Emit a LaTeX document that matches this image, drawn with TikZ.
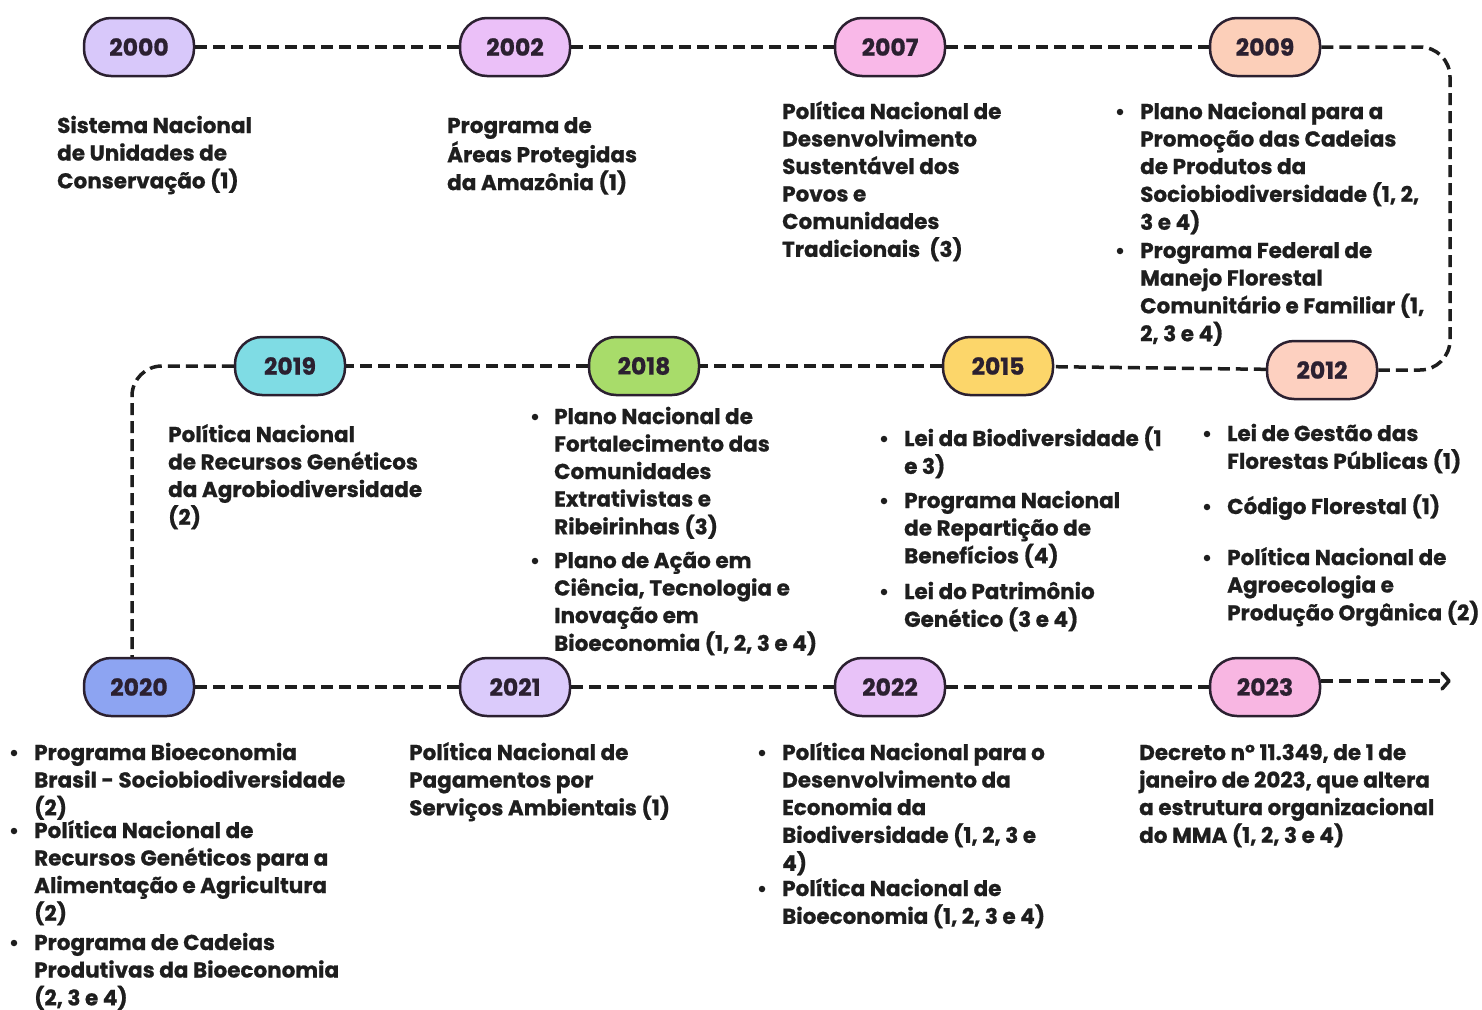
\documentclass[tikz,border=0pt]{standalone}
\usepackage{fontspec}
\setmainfont{Poppins}[BoldFeatures={FakeBold=0.8}]
\usetikzlibrary{calc}
\definecolor{ink}{HTML}{1E1E1E}
\definecolor{edge}{HTML}{2B2030}
\definecolor{c2000}{HTML}{D8C8FA}
\definecolor{c2002}{HTML}{EBC0F8}
\definecolor{c2007}{HTML}{F9B8E8}
\definecolor{c2009}{HTML}{FCCFB9}
\definecolor{c2012}{HTML}{FDD0C0}
\definecolor{c2015}{HTML}{FCD66A}
\definecolor{c2018}{HTML}{A8DC6A}
\definecolor{c2019}{HTML}{7FDCE4}
\definecolor{c2020}{HTML}{8DA4F2}
\definecolor{c2021}{HTML}{DBCBFB}
\definecolor{c2022}{HTML}{E8C2F8}
\definecolor{c2023}{HTML}{F8B6E2}
\newcommand{\linesblk}[1]{\begin{tabular}[t]{@{}l@{}}#1\end{tabular}}
\tikzset{
  year/.style={draw=edge, line width=2.5pt, rectangle, rounded corners=27pt,
    minimum width=110pt, minimum height=58pt, inner sep=0pt,
    text=edge, font=\fontsize{23.5}{26}\selectfont\bfseries},
  txt/.style={inner sep=0pt, text=ink, anchor=base west,
    font=\fontsize{21.5}{27.5}\selectfont\bfseries},
  dot/.style={circle, fill=ink, inner sep=0pt, minimum size=6.5pt},
  link/.style={draw=ink, line width=3.5pt, dash pattern=on 12pt off 6pt, rounded corners=30pt},
  chevron/.style={draw=ink, line width=3.5pt, line cap=round, line join=round},
}
\begin{document}
\begin{tikzpicture}[x=1pt,y=-1pt]
\useasboundingbox[fill=white] (0,0) rectangle (1482,1009);
\node[year, fill=c2000] (y2000) at (139,47) {2000};
\node[year, fill=c2002] (y2002) at (515,47) {2002};
\node[year, fill=c2007] (y2007) at (890,47) {2007};
\node[year, fill=c2009] (y2009) at (1265,47) {2009};
\node[year, fill=c2019] (y2019) at (290,366) {2019};
\node[year, fill=c2018] (y2018) at (644,366) {2018};
\node[year, fill=c2015] (y2015) at (998,366) {2015};
\node[year, fill=c2012] (y2012) at (1322,370) {2012};
\node[year, fill=c2020] (y2020) at (139,687) {2020};
\node[year, fill=c2021] (y2021) at (515,687) {2021};
\node[year, fill=c2022] (y2022) at (890,687) {2022};
\node[year, fill=c2023] (y2023) at (1265,687) {2023};
\coordinate (endarrow) at (1449,681);
\coordinate (tipstart) at (1440,681);
\draw[link] (y2000) -- (y2002);
\draw[link] (y2002) -- (y2007);
\draw[link] (y2007) -- (y2009);
\draw[link] (y2009.east) -- (1450,47) -- (1450,370) -- (y2012.east);
\draw[link] (y2012) -- (y2015);
\draw[link] (y2015) -- (y2018);
\draw[link] (y2018) -- (y2019);
\draw[link] (y2019.west) -- (132,366) -- (132,366 |- y2020.north);
\draw[link] (y2020) -- (y2021);
\draw[link] (y2021) -- (y2022);
\draw[link] (y2022) -- (y2023);
\draw[link] (y2023.east |- endarrow) -- (tipstart);
\draw[chevron] ($(endarrow)+(-7,-8)$) -- (endarrow) -- ($(endarrow)+(-7,8)$);
% texts
\node[txt] (t2000) at (57,133) {\linesblk{Sistema Nacional\\de Unidades de\\Conservação (1)}};
\node[txt] (t2002) at (447,133) {\linesblk{Programa de\\Áreas Protegidas\\da Amazônia (1)}};
\node[txt] (t2007) at (782,119) {\linesblk{Política Nacional de\\Desenvolvimento\\Sustentável dos\\Povos e\\Comunidades\\Tradicionais\ \ (3)}};
\node[dot] (b2009a) at (1120,112) {};
\node[txt] (t2009a) at (1140,119) {\linesblk{Plano Nacional para a\\Promoção das Cadeias\\de Produtos da\\Sociobiodiversidade (1, 2,\\3 e 4)}};
\node[dot] (b2009b) at (1120,251) {};
\node[txt] (t2009b) at (1140,258) {\linesblk{Programa Federal de\\Manejo Florestal\\Comunitário e Familiar (1,\\2, 3 e 4)}};
\node[txt] (t2019) at (168,442) {\linesblk{Política Nacional\\de Recursos Genéticos\\da Agrobiodiversidade\\(2)}};
\node[dot] (b2018a) at (535,417) {};
\node[txt] (t2018a) at (554,424) {\linesblk{Plano Nacional de\\Fortalecimento das\\Comunidades\\Extrativistas e\\Ribeirinhas (3)}};
\node[dot] (b2018b) at (535,561) {};
\node[txt] (t2018b) at (554,568) {\linesblk{Plano de Ação em\\Ciência, Tecnologia e\\Inovação em\\Bioeconomia (1, 2, 3 e 4)}};
\node[dot] (b2015a) at (884,439) {};
\node[txt] (t2015a) at (904,446) {\linesblk{Lei da Biodiversidade (1\\e 3)}};
\node[dot] (b2015b) at (884,501) {};
\node[txt] (t2015b) at (904,508) {\linesblk{Programa Nacional\\de Repartição de\\Benefícios (4)}};
\node[dot] (b2015c) at (884,592) {};
\node[txt] (t2015c) at (904,599) {\linesblk{Lei do Patrimônio\\Genético (3 e 4)}};
\node[dot] (b2012a) at (1207,434) {};
\node[txt] (t2012a) at (1227,441) {\linesblk{Lei de Gestão das\\Florestas Públicas (1)}};
\node[dot] (b2012b) at (1207,507) {};
\node[txt] (t2012b) at (1227,514) {\linesblk{Código Florestal (1)}};
\node[dot] (b2012c) at (1207,558) {};
\node[txt] (t2012c) at (1227,565) {\linesblk{Política Nacional de\\Agroecologia e\\Produção Orgânica (2)}};
\node[dot] (b2020a) at (14,753) {};
\node[txt] (t2020a) at (34,760) {\linesblk{Programa Bioeconomia\\Brasil - Sociobiodiversidade\\(2)}};
\node[dot] (b2020b) at (14,831) {};
\node[txt] (t2020b) at (34,838) {\linesblk{Política Nacional de\\Recursos Genéticos para a\\Alimentação e Agricultura\\(2)}};
\node[dot] (b2020c) at (14,943) {};
\node[txt] (t2020c) at (34,950) {\linesblk{Programa de Cadeias\\Produtivas da Bioeconomia\\(2, 3 e 4)}};
\node[txt] (t2021) at (409,760) {\linesblk{Política Nacional de\\Pagamentos por\\Serviços Ambientais (1)}};
\node[dot] (b2022a) at (762,753) {};
\node[txt] (t2022a) at (782,760) {\linesblk{Política Nacional para o\\Desenvolvimento da\\Economia da\\Biodiversidade (1, 2, 3 e\\4)}};
\node[dot] (b2022b) at (762,889) {};
\node[txt] (t2022b) at (782,896) {\linesblk{Política Nacional de\\Bioeconomia (1, 2, 3 e 4)}};
\node[txt] (t2023) at (1139,760) {\linesblk{Decreto n° 11.349, de 1 de\\janeiro de 2023, que altera\\a estrutura organizacional\\do MMA (1, 2, 3 e 4)}};
\end{tikzpicture}
\end{document}
